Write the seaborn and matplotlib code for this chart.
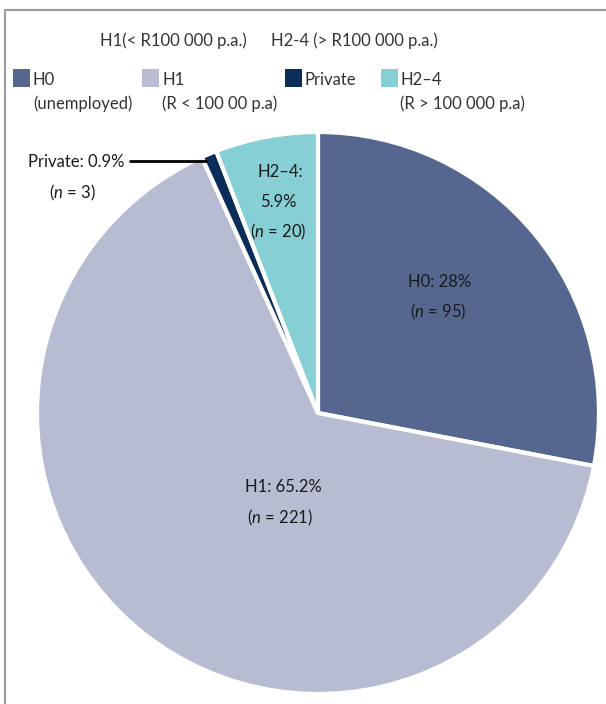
import matplotlib
matplotlib.use("Agg")
import matplotlib.pyplot as plt
import seaborn as sns
import numpy as np
from matplotlib.patches import Rectangle
from matplotlib.lines import Line2D

categories = ["H0", "H1", "Private", "H2–4"]
counts = [95, 221, 3, 20]
percents = ["28%", "65.2%", "0.9%", "5.9%"]
legend_labels = ["H0\n(unemployed)", "H1\n(R < 100 00 p.a)", "Private", "H2–4\n(R > 100 000 p.a)"]
header_labels = ["H1(< R100 000 p.a.)", "H2-4 (> R100 000 p.a.)"]
colors = ["#55668f", "#b8bcd2", "#0c2d5a", "#86d0d5"]

sns.set_theme(style="white")
plt.rcParams['font.family'] = ['Lato', 'DejaVu Sans']
plt.rcParams['mathtext.fontset'] = 'custom'
plt.rcParams['mathtext.it'] = 'Lato:italic'
plt.rcParams['mathtext.rm'] = 'Lato'
palette = sns.color_palette(colors)

W, H = 606, 704
fig = plt.figure(figsize=(W / 100, H / 100), dpi=100)
fig.patch.set_facecolor("white")

cx, cy, r = 318, 413, 281
ax = fig.add_axes([(cx - r) / W, (H - cy - r) / H, 2 * r / W, 2 * r / H])
wedges, _ = ax.pie(counts, colors=palette, startangle=90, counterclock=False,
                   wedgeprops=dict(edgecolor="white", linewidth=3))
for w in wedges:
    w.set_clip_on(False)
ax.set_xlim(-1, 1)
ax.set_ylim(-1, 1)
ax.set_aspect("equal")
ax.axis("off")

def px(x, y):
    return ((x - cx) / r, (cy - y) / r)

tc = "#1a1a1a"
fs = 12
ns = [r"($\it{n}$ = %d)" % c for c in counts]

# H0
ax.text(*px(440, 282), f"{categories[0]}: {percents[0]}", ha="center", va="center", fontsize=fs, color=tc)
ax.text(*px(438, 312), ns[0], ha="center", va="center", fontsize=fs, color=tc)
# H1
ax.text(*px(283, 487), f"{categories[1]}: {percents[1]}", ha="center", va="center", fontsize=fs, color=tc)
ax.text(*px(280, 518), ns[1], ha="center", va="center", fontsize=fs, color=tc)
# H2-4
ax.text(*px(280, 172), f"{categories[3]}:", ha="center", va="center", fontsize=fs, color=tc)
ax.text(*px(278, 202), percents[3], ha="center", va="center", fontsize=fs, color=tc)
ax.text(*px(278, 232), ns[3], ha="center", va="center", fontsize=fs, color=tc)
# Private with leader line
wp = wedges[2]
ang = np.deg2rad((wp.theta1 + wp.theta2) / 2)
tip = (np.cos(ang) * 1.0, np.sin(ang) * 1.0)
lx0, ly = px(130, 161)
ax.plot([lx0, tip[0] - 0.01], [ly, ly], color="black", lw=2, clip_on=False)
ax.text(*px(124, 162), f"{categories[2]}: {percents[2]}", ha="right", va="center", fontsize=fs, color=tc)
ax.text(*px(72, 193), ns[2], ha="center", va="center", fontsize=fs, color=tc)

# Header
lc = "#333333"
fig.text(173 / W, 1 - 41 / H, header_labels[0], ha="center", va="center", fontsize=fs, color=lc)
fig.text(354 / W, 1 - 41 / H, header_labels[1], ha="center", va="center", fontsize=fs, color=lc)

# Legend
sq = [(13, 69), (142, 69), (285, 69), (381, 69)]
tx = [33, 162, 305, 400]
for i in range(4):
    x0, y0 = sq[i]
    fig.add_artist(Rectangle((x0 / W, 1 - (y0 + 18) / H), 17 / W, 18 / H,
                             transform=fig.transFigure, facecolor=palette[i], edgecolor="none"))
    lines = legend_labels[i].split("\n")
    fig.text(tx[i] / W, 1 - 80 / H, lines[0], ha="left", va="center", fontsize=fs, color=lc)
    if len(lines) > 1:
        fig.text(tx[i] / W, 1 - 104 / H, lines[1], ha="left", va="center", fontsize=fs, color=lc)

# Border
bc = "#9a9a9a"
fig.add_artist(Line2D([5 / W, 1], [1 - 10 / H, 1 - 10 / H], transform=fig.transFigure, color=bc, lw=1.5))
fig.add_artist(Line2D([5 / W, 5 / W], [0, 1 - 10 / H], transform=fig.transFigure, color=bc, lw=1.5))

fig.savefig("out.png", dpi=100, facecolor="white")
